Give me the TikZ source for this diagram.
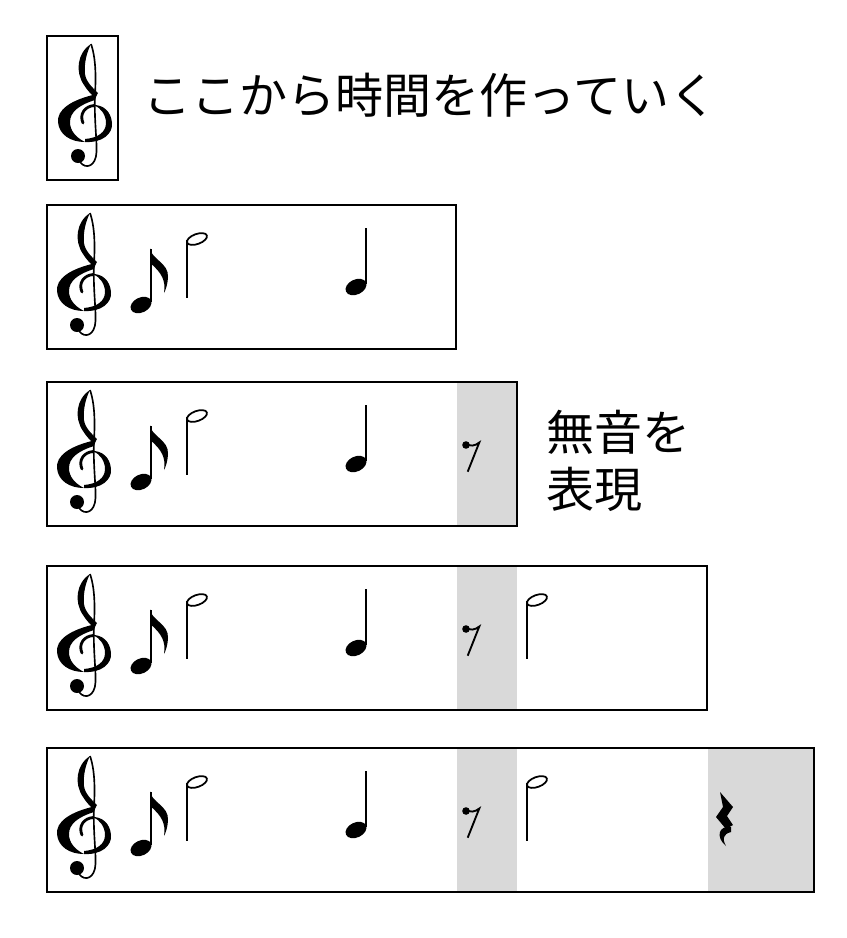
\documentclass[tikz,border=0pt]{standalone}
\usepackage{fontspec}
\usepackage{tikz}
\newfontfamily\jpfont{Noto Sans CJK JP}

\tikzset{
    barbox/.style={draw, line width=1pt},
    silence/.style={fill=black!15},
    jptext/.style={font=\jpfont\fontsize{41pt}{49.3pt}\selectfont, inner sep=0pt, anchor=west, align=left},
    gclef/.pic={
        % upper loop and the cross-over
        \fill (0,0) .. controls (-14,9) and (-16,28) .. (-7,41)
            .. controls (-4,46) and (0,50) .. (4,54)
            -- (7,49) .. controls (2,44) and (-5,38) .. (-6,30)
            .. controls (-7,18) and (-4,8) .. (0,0) -- cycle;
        % big loop, left side
        \fill (6,50) .. controls (-21,56) and (-34,66) .. (-33,78)
            .. controls (-32,91) and (-20,98) .. (-6,98)
            .. controls (-16,93) and (-21,86) .. (-21,78)
            .. controls (-21,68) and (-12,61) .. (4,56) -- cycle;
        % big loop, right side
        \fill (-6,98) .. controls (11,99) and (22,90) .. (21,79)
            .. controls (20,67) and (12,61) .. (3,61)
            .. controls (10,64) and (15,71) .. (15,79)
            .. controls (15,88) and (7,94) .. (-6,95) -- cycle;
        \draw[line width=2.4pt, line cap=round] (3.5,61.5) .. controls (-6,62) and (-12,70) .. (-8,79);
        % stem and ball
        \draw[line width=1.4pt] (0,0) .. controls (5,14) and (5,34) .. (4,50)
            .. controls (3,75) and (6,95) .. (5.5,108)
            .. controls (5,122) and (-5,126) .. (-11,118);
        \fill (-13,112) circle (7);
    },
    eighthnote/.pic={
        \fill[rotate=25] (0,0) ellipse [x radius=11, y radius=7.5];
        \draw[line width=1.6pt] (10,-3) -- (10,-56);
        \fill (9.2,-56.5) .. controls (10,-46) and (28,-42) .. (27,-28)
            .. controls (26.5,-20) and (25,-16) .. (23,-12)
            .. controls (25,-24) and (21,-32) .. (9.2,-42) -- cycle;
    },
    halfnote/.pic={
        \draw[line width=1.5pt, rotate=20] (0,0) ellipse [x radius=10.5, y radius=5];
        \draw[line width=1.3pt] (-10,1) -- (-10,59);
    },
    quarternote/.pic={
        \fill[rotate=25] (0,0) ellipse [x radius=11, y radius=7.5];
        \draw[line width=1.6pt] (10,-3) -- (10,-59);
    },
    eighthrest/.pic={
        \fill (0,0) circle (3.8);
        \draw[line width=1.6pt] (-1,-2) .. controls (4,2) and (9,1) .. (13.3,-2.5) -- (1.7,26.7);
    },
    quarterrest/.pic={
        \fill (3,44) -- (16,59) -- (10,68) -- (16,77) -- (9,81) -- (-1,69) -- (6,59) -- cycle;
        \fill (14,79) .. controls (2,77) and (-2,89) .. (9,98)
            .. controls (5,91) and (6,86) .. (14,84) -- cycle;
    }
}

\begin{document}
\begin{tikzpicture}[x=0.03cm, y=-0.03cm]
    \useasboundingbox (0,0) rectangle (847,938);

    % the lone clef
    \draw[barbox] (47,36) rectangle (118,180);
    \pic at (91,44) {gclef};
    \node[jptext] (start) at (143,95) {ここから時間を作っていく};

    % rests get a grey band
    \foreach \y in {382, 566, 748}
        \fill[silence] (457,\y) rectangle (517,\y+144);
    \fill[silence] (708,748) rectangle (814,892);

    \foreach \y/\r in {205/456, 382/517, 566/707, 748/814} {
        \draw[barbox] (47,\y) rectangle (\r,\y+144);
        \pic at (90,\y+8) {gclef};
        \pic at (141,\y+100) {eighthnote};
        \pic at (197,\y+34) {halfnote};
        \pic at (356,\y+82) {quarternote};
    }

    \foreach \y in {382, 566, 748}
        \pic at (466,\y+63) {eighthrest};
    \foreach \y in {566, 748}
        \pic at (537,\y+34) {halfnote};
    \pic at (717,748) {quarterrest};

    \node[jptext] (mute) at (546,461) {無音を\\表現};
\end{tikzpicture}
\end{document}
